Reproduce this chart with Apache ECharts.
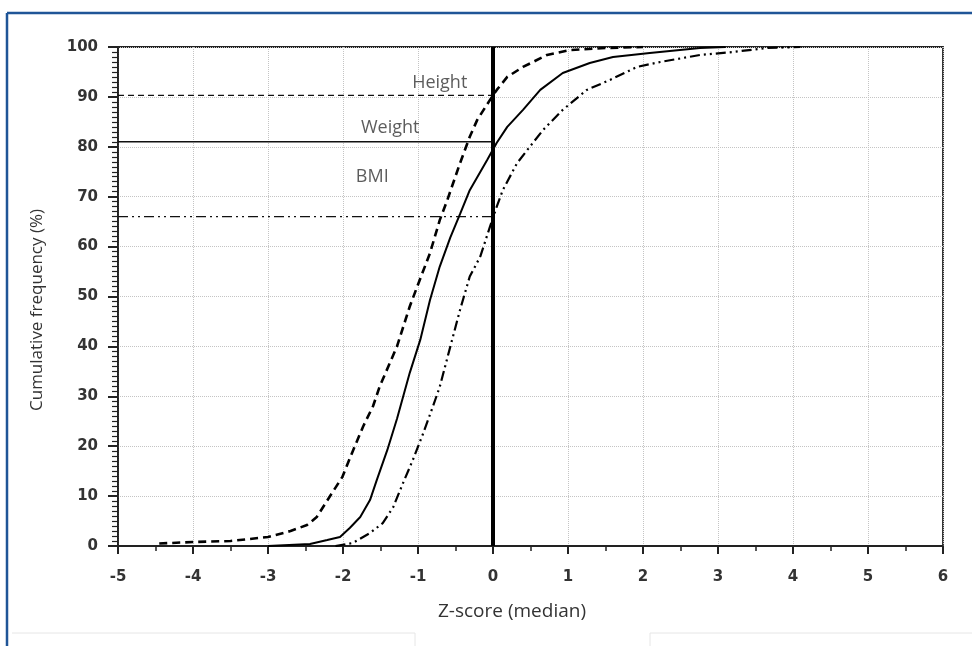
<!DOCTYPE html>
<html>
<head>
<meta charset="utf-8">
<script src="https://cdn.jsdelivr.net/npm/echarts@6/dist/echarts.min.js"></script>
<style>
html, body { margin: 0; padding: 0; background: #fff; }
#main { width: 972px; height: 646px; }
</style>
</head>
<body>
<div id="main"></div>
<script>
// cumulative frequency curves
var heightX = [-4.45, -4.0, -3.5, -3.0, -2.7, -2.48, -2.35, -2.13, -2.01, -1.87, -1.73, -1.6, -1.51, -1.28, -1.11, -1.01, -0.84, -0.71, -0.61, -0.44, -0.31, -0.21, -0.04, 0.05, 0.19, 0.4, 0.72, 1.03, 1.5, 2.0];
var heightY = [0.5, 0.8, 1.0, 1.8, 3.0, 4.2, 5.8, 11, 13.8, 19, 24, 28, 32, 40, 48, 52, 58.7, 65.3, 69.3, 76.7, 82, 85.4, 89.4, 91.4, 94, 96, 98.4, 99.4, 99.8, 100];

var weightX = [-3.0, -2.44, -2.21, -2.04, -1.91, -1.77, -1.64, -1.55, -1.41, -1.28, -1.11, -0.97, -0.84, -0.71, -0.57, -0.44, -0.31, -0.08, 0.05, 0.19, 0.4, 0.63, 0.93, 1.29, 1.6, 2.09, 2.76, 3.1];
var weightY = [0, 0.4, 1.2, 1.8, 3.6, 5.8, 9.2, 13.2, 19.2, 25.5, 34.7, 41.3, 49.3, 56, 61.8, 66.5, 71.3, 77.3, 80.8, 84, 87.4, 91.4, 94.8, 96.8, 98, 98.8, 99.8, 100];

var bmiX = [-2.1, -1.87, -1.64, -1.47, -1.33, -1.2, -1.07, -0.93, -0.8, -0.71, -0.57, -0.44, -0.31, -0.17, -0.04, 0.05, 0.13, 0.32, 0.49, 0.67, 0.93, 1.25, 1.56, 1.92, 2.23, 2.76, 3.2, 3.65, 4.1];
var bmiY = [0, 0.6, 2.6, 4.6, 7.8, 12.6, 17.2, 22.6, 28, 31.9, 39.9, 47.3, 54, 58, 64, 68, 71.3, 76.7, 80, 83.4, 87.4, 91.4, 93.4, 96, 97, 98.4, 99, 99.8, 100];

// frequency at the median (z = 0)
var refNames = ['Height', 'Weight', 'BMI'];
var refValues = [90.3, 81, 66];
var labelX = [-0.71, -1.37, -1.61];
var labelY = [92.8, 83.8, 74];

var xTicks = { min: -5, max: 6, step: 1 };
var yTicks = { min: 0, max: 100, step: 10 };
var xTitle = 'Z-score (median)';
var yTitle = 'Cumulative frequency (%)';

function pairs(xs, ys) {
    var out = [];
    for (var i = 0; i < xs.length; i++) {
        out.push([xs[i], ys[i]]);
    }
    return out;
}

var styles = [
    { type: [8, 5], width: 2.6 },
    { type: 'solid', width: 2 },
    { type: [10, 4, 2, 4, 2, 4], width: 2.2 }
];
var refStyles = [
    { type: [6, 4], width: 1.4 },
    { type: 'solid', width: 1.6 },
    { type: [10, 4, 2, 4, 2, 4], width: 1.4 }
];

var curves = [pairs(heightX, heightY), pairs(weightX, weightY), pairs(bmiX, bmiY)];

var series = [];
for (var i = 0; i < curves.length; i++) {
    series.push({
        type: 'line',
        name: refNames[i],
        data: curves[i],
        showSymbol: false,
        symbol: 'none',
        lineStyle: { color: '#000', type: styles[i].type, width: styles[i].width },
        z: 3
    });
    series.push({
        type: 'line',
        name: refNames[i] + ' ref',
        data: [[xTicks.min, refValues[i]], [0, refValues[i]]],
        symbol: 'none',
        lineStyle: { color: '#111', type: refStyles[i].type, width: refStyles[i].width },
        z: 2
    });
}
// vertical line at the median
series.push({
    type: 'line',
    data: [[0, yTicks.min], [0, yTicks.max]],
    symbol: 'none',
    lineStyle: { color: '#000', width: 4 },
    z: 4
});
// curve labels
series.push({
    type: 'scatter',
    symbolSize: 0,
    data: labelX.map(function (x, k) { return { value: [x, labelY[k]], name: refNames[k] }; }),
    label: {
        show: true,
        position: 'inside',
        formatter: '{b}',
        fontFamily: 'Open Sans',
        fontSize: 18,
        color: '#333'
    },
    z: 5
});

var chartDom = document.getElementById('main');
var myChart = echarts.init(chartDom);
var option = {
    backgroundColor: '#fff',
    animation: false,
    grid: {
        left: 118,
        right: 29,
        top: 47,
        bottom: 100,
        show: true,
        borderColor: '#222',
        borderWidth: 1.8
    },
    xAxis: {
        type: 'value',
        min: xTicks.min,
        max: xTicks.max,
        interval: xTicks.step,
        axisLine: { onZero: false, lineStyle: { color: '#222', width: 1.8 } },
        axisTick: { show: true, length: 8, lineStyle: { color: '#222', width: 2 } },
        minorTick: { show: true, splitNumber: 2, length: 5, lineStyle: { color: '#222', width: 1.5 } },
        axisLabel: { margin: 24, fontFamily: 'DejaVu Sans', fontWeight: 'bold', fontSize: 15, color: '#333' },
        splitLine: { show: true, lineStyle: { color: '#c4c4c4', type: 'dotted', width: 1 } }
    },
    yAxis: {
        type: 'value',
        min: yTicks.min,
        max: yTicks.max,
        interval: yTicks.step,
        axisLine: { show: true, onZero: false, lineStyle: { color: '#222', width: 1.8 } },
        axisTick: { show: true, inside: false, length: 10, lineStyle: { color: '#222', width: 2 } },
        minorTick: { show: true, splitNumber: 10, length: 6, lineStyle: { color: '#222', width: 1.2 } },
        axisLabel: { margin: 20, fontFamily: 'DejaVu Sans', fontWeight: 'bold', fontSize: 15, color: '#333' },
        splitLine: { show: true, lineStyle: { color: '#c4c4c4', type: 'dotted', width: 1 } }
    },
    graphic: [
        { type: 'line', shape: { x1: 7, y1: 13, x2: 972, y2: 13 }, style: { stroke: '#1f5597', lineWidth: 2.5 } },
        { type: 'line', shape: { x1: 7, y1: 13, x2: 7, y2: 646 }, style: { stroke: '#1f5597', lineWidth: 2.5 } },
        { type: 'polyline', shape: { points: [[12, 633], [415, 633], [415, 646]] }, style: { stroke: '#e6e6e6', lineWidth: 1, fill: null } },
        { type: 'polyline', shape: { points: [[650, 646], [650, 633], [972, 633]] }, style: { stroke: '#e6e6e6', lineWidth: 1, fill: null } },
        {
            type: 'text', x: 512, y: 612,
            style: { text: xTitle, fontFamily: 'Open Sans', fontSize: 19, fill: '#333', align: 'center', verticalAlign: 'middle' }
        },
        {
            type: 'text', x: 37, y: 310, rotation: Math.PI / 2,
            style: { text: yTitle, fontFamily: 'Open Sans', fontSize: 17, fill: '#333', align: 'center', verticalAlign: 'middle' }
        }
    ],
    series: series
};
myChart.setOption(option);
</script>
</body>
</html>
